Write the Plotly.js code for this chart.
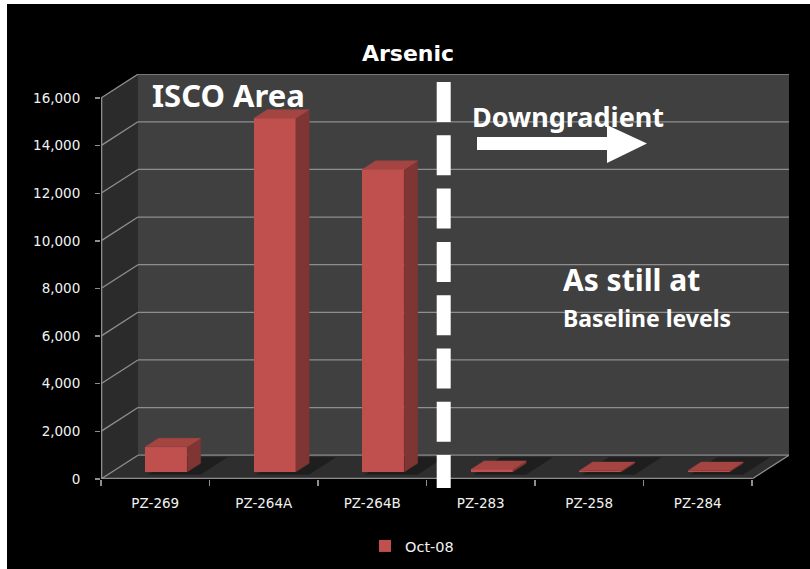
<!DOCTYPE html>
<html>
<head>
<meta charset="utf-8">
<script src="https://cdn.plot.ly/plotly-3.0.1.min.js"></script>
<style>
  html, body { margin: 0; padding: 0; background: #000; overflow: hidden; }
  #chart { width: 810px; height: 569px; }
</style>
</head>
<body>
<div id="chart"></div>
<script>
// Arsenic concentrations, October 2008 sampling round
const categories = ['PZ-269', 'PZ-264A', 'PZ-264B', 'PZ-283', 'PZ-258', 'PZ-284'];
const oct08 = [1050, 14850, 12700, 100, 50, 50];
const seriesName = 'Oct-08';
const yTickValues = [0, 2000, 4000, 6000, 8000, 10000, 12000, 14000, 16000];

// ---- pseudo-3D geometry (axis units) ----
const DX = 0.341;      // depth offset along x (categories)
const DY = 1000;       // depth offset along y (value units)
const FRONT = 0.30;    // depth fraction of the bar front faces
const BACK = 0.66;     // depth fraction of the bar back faces
const BAR_W = 0.387;   // bar width in category units
const X0 = -0.5, X1 = categories.length - 0.5;
const YTOP = yTickValues[yTickValues.length - 1];

// plot area in pixels (used for paper-anchored decorations)
const W = 810, H = 569;
const M = { l: 101, r: 21, t: 74, b: 90, autoexpand: false };
const PW = W - M.l - M.r, PH = H - M.t - M.b;
const px = v => (v - M.l) / PW;
const py = v => (M.t + PH - v) / PH;
const PX_PER_VALUE = 381 / YTOP;   // front axis: 0 .. 16,000 spans 381 px

const xIdx = categories.map((_, i) => i);

// gray palette
const GRID = '#8e8e8e';
const BACKWALL = '#404040';
const SIDEWALL = '#2b2b2b';
const FLOOR = '#2e2e2e';
const RED = '#c0504d', RED_TOP = '#a44542', RED_SIDE = '#7f3533';

// bar faces built from the values
function faces(kind) {
  const xs = [], ys = [];
  const d = BACK - FRONT;
  oct08.forEach((v, i) => {
    const xl = i + FRONT * DX - BAR_W / 2;
    const xr = xl + BAR_W;
    const base = FRONT * DY;
    const top = base + v;
    if (kind === 'top') {
      xs.push(xl, xr, xr + d * DX, xl + d * DX, xl, null);
      ys.push(top, top, top + d * DY, top + d * DY, top, null);
    } else {
      xs.push(xr, xr + d * DX, xr + d * DX, xr, xr, null);
      ys.push(base, base + d * DY, top + d * DY, top, base, null);
    }
  });
  return { xs, ys };
}
const topF = faces('top'), sideF = faces('side');

const traces = [
  {
    type: 'bar', name: seriesName,
    x: xIdx, y: oct08,
    base: oct08.map(() => FRONT * DY),
    width: BAR_W, offset: FRONT * DX - BAR_W / 2,
    marker: { color: RED, line: { width: 0 } },
    showlegend: true
  },
  {
    type: 'scatter', mode: 'lines', x: sideF.xs, y: sideF.ys,
    fill: 'toself', fillcolor: RED_SIDE, line: { color: RED_SIDE, width: 0.5 },
    hoverinfo: 'skip', showlegend: false
  },
  {
    type: 'scatter', mode: 'lines', x: topF.xs, y: topF.ys,
    fill: 'toself', fillcolor: RED_TOP, line: { color: RED_TOP, width: 0.5 },
    hoverinfo: 'skip', showlegend: false
  }
];

// ---- walls, floor and grid ----
const shapes = [];
const poly = pts => 'M' + pts.map(p => p[0] + ',' + p[1]).join('L') + 'Z';
// page frame
shapes.push({ type: 'rect', xref: 'paper', yref: 'paper', layer: 'below',
  x0: px(0), x1: px(7), y0: py(H), y1: py(0), fillcolor: '#ffffff', line: { width: 0 } });
shapes.push({ type: 'rect', xref: 'paper', yref: 'paper', layer: 'below',
  x0: px(0), x1: px(W), y0: py(4), y1: py(0), fillcolor: '#ffffff', line: { width: 0 } });
// back wall
shapes.push({ type: 'path', xref: 'x', yref: 'y', layer: 'below',
  path: poly([[X0 + DX, DY], [X1 + DX, DY], [X1 + DX, YTOP + DY], [X0 + DX, YTOP + DY]]),
  fillcolor: BACKWALL, line: { width: 0 } });
// side wall
shapes.push({ type: 'path', xref: 'x', yref: 'y', layer: 'below',
  path: poly([[X0, 0], [X0 + DX, DY], [X0 + DX, YTOP + DY], [X0, YTOP]]),
  fillcolor: SIDEWALL, line: { width: 0 } });
// floor
shapes.push({ type: 'path', xref: 'x', yref: 'y', layer: 'below',
  path: poly([[X0, 0], [X1, 0], [X1 + DX, DY], [X0 + DX, DY]]),
  fillcolor: FLOOR, line: { width: 0 } });
// soft shadows under the bars
oct08.forEach((v, i) => {
  const xl = i + FRONT * DX - BAR_W / 2 - 0.04;
  const xr = xl + BAR_W + 0.1;
  const f0 = FRONT - 0.12, f1 = Math.min(BACK + 0.25, 1);
  shapes.push({ type: 'path', xref: 'x', yref: 'y', layer: 'below',
    path: poly([[xl + f0 * DX, f0 * DY], [xr + f0 * DX, f0 * DY], [xr + f1 * DX, f1 * DY], [xl + f1 * DX, f1 * DY]]),
    fillcolor: 'rgba(0,0,0,0.35)', line: { width: 0 } });
});
// gridlines: back wall horizontals and side wall diagonals
yTickValues.forEach(t => {
  shapes.push({ type: 'line', xref: 'x', yref: 'y', layer: 'below',
    x0: X0 + DX, x1: X1 + DX, y0: t + DY, y1: t + DY, line: { color: GRID, width: 1.3 } });
  shapes.push({ type: 'line', xref: 'x', yref: 'y', layer: 'below',
    x0: X0, x1: X0 + DX, y0: t, y1: t + DY, line: { color: GRID, width: 1.3 } });
});
// front axis lines and the floor's right edge
shapes.push({ type: 'line', xref: 'x', yref: 'y', layer: 'below',
  x0: X0, x1: X0, y0: 0, y1: YTOP, line: { color: GRID, width: 2.6 } });
shapes.push({ type: 'line', xref: 'x', yref: 'y', layer: 'below',
  x0: X0, x1: X1, y0: 0, y1: 0, line: { color: GRID, width: 2.6 } });
shapes.push({ type: 'line', xref: 'x', yref: 'y', layer: 'below',
  x0: X1, x1: X1 + DX, y0: 0, y1: DY, line: { color: GRID, width: 1.3 } });

// divider between the ISCO area and downgradient wells
shapes.push({ type: 'line', xref: 'paper', yref: 'paper', layer: 'above',
  x0: px(443.7), x1: px(443.7), y0: py(82), y1: py(488),
  line: { color: '#ffffff', width: 14, dash: '40px,13.3px' } });
// downgradient arrow
const arrowPts = [[477, 137], [607, 137], [607, 125], [647, 143.5], [607, 163], [607, 150], [477, 150]];
shapes.push({ type: 'path', xref: 'paper', yref: 'paper', layer: 'above',
  path: poly(arrowPts.map(p => [px(p[0]), py(p[1])])),
  fillcolor: '#ffffff', line: { width: 0 } });

const note = (text, x, y, size) => ({
  text, xref: 'paper', yref: 'paper', x: px(x), y: py(y),
  xanchor: 'left', yanchor: 'middle', showarrow: false,
  font: { family: 'Noto Sans', size, color: '#ffffff', weight: 'bold' }
});

const layout = {
  width: W, height: H,
  margin: M,
  paper_bgcolor: '#000000',
  plot_bgcolor: 'rgba(0,0,0,0)',
  title: {
    text: 'Arsenic', x: 408 / W, xanchor: 'center', y: 1 - 53 / H, yanchor: 'middle',
    font: { family: 'DejaVu Sans', size: 22, color: '#ffffff', weight: 'bold' }
  },
  xaxis: {
    range: [X0, X1 + DX], showgrid: false, zeroline: false, showline: false,
    tickmode: 'array', tickvals: xIdx, ticktext: categories, ticks: '',
    ticklabelstandoff: 14,
    tickfont: { family: 'DejaVu Sans', size: 13.5, color: '#f2f2f2' },
    minor: {
      tickmode: 'array', tickvals: categories.concat(['']).map((_, i) => i - 0.5),
      ticks: 'outside', ticklen: 6, tickwidth: 1.3, tickcolor: GRID, showgrid: false
    },
    fixedrange: true
  },
  yaxis: {
    range: [0, PH / PX_PER_VALUE],
    showgrid: false, zeroline: false, showline: false,
    tickmode: 'array', tickvals: yTickValues, tickformat: ',d',
    ticks: 'outside', ticklen: 5, tickwidth: 1.3, tickcolor: GRID,
    ticklabelstandoff: 12,
    tickfont: { family: 'DejaVu Sans', size: 13.5, color: '#f2f2f2' },
    fixedrange: true
  },
  bargap: 0,
  shapes,
  annotations: [
    note('ISCO Area', 150, 95, 31),
    note('Downgradient', 470, 116, 27),
    note('As still at', 561, 279, 30),
    note('Baseline levels', 561, 318, 23)
  ],
  showlegend: true,
  legend: {
    orientation: 'h', x: px(365), xanchor: 'left', y: py(546), yanchor: 'middle',
    bgcolor: 'rgba(0,0,0,0)',
    font: { family: 'DejaVu Sans', size: 14.5, color: '#f2f2f2' }
  },
  hovermode: false
};

Plotly.newPlot('chart', traces, layout, { displayModeBar: false, staticPlot: true });
</script>
</body>
</html>
